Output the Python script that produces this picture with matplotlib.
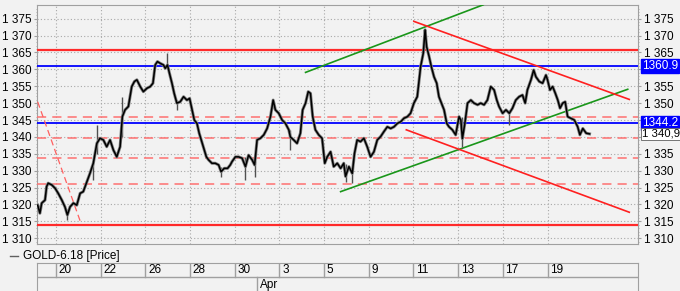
import matplotlib
matplotlib.use('Agg')
import matplotlib.pyplot as plt
from matplotlib.lines import Line2D
import numpy as np

######################################################
# price path (t = trading days from Mar 19)

t = [0.18, 0.28, 0.36, 0.51, 0.58, 0.65, 0.81, 0.96, 1.10, 1.26, 1.40, 1.51, 1.63, 1.78, 1.93,
     2.08, 2.22, 2.38, 2.52, 2.67, 2.83, 2.97, 3.12, 3.27, 3.42, 3.57, 3.72, 3.87, 3.97, 4.09,
     4.24, 4.39, 4.51, 4.62, 4.77, 4.91, 5.07, 5.22, 5.34, 5.44, 5.54, 5.66, 5.81, 5.89, 5.99,
     6.08, 6.19, 6.29, 6.41, 6.56, 6.71, 6.86, 6.98, 7.09, 7.19, 7.31, 7.41, 7.50, 7.61, 7.73,
     7.83, 7.98, 8.13, 8.28, 8.39, 8.53, 8.68, 8.80, 8.88, 9.03, 9.17, 9.33, 9.48, 9.62, 9.78,
     9.89, 10.00, 10.15, 10.30, 10.45, 10.60, 10.72, 10.82, 10.97, 11.12, 11.27, 11.42, 11.49,
     11.64, 11.79, 11.94, 12.04, 12.17, 12.29, 12.39, 12.49, 12.61, 12.76, 12.91, 13.03, 13.14,
     13.29, 13.43, 13.59, 13.74, 13.88, 13.96, 14.11, 14.26, 14.36, 14.48, 14.63, 14.78, 14.93,
     15.08, 15.23, 15.38, 15.53, 15.68, 15.83, 15.98, 16.13, 16.28, 16.43, 16.57, 16.73, 16.87,
     17.02, 17.17, 17.32, 17.44, 17.52, 17.59, 17.70, 17.80, 17.92, 18.04, 18.14, 18.25, 18.37,
     18.49, 18.59, 18.74, 18.89, 19.04, 19.12, 19.19, 19.30, 19.42, 19.57, 19.71, 19.87, 20.01,
     20.16, 20.31, 20.46, 20.61, 20.73, 20.83, 20.99, 21.14, 21.29, 21.43, 21.58, 21.73, 21.88,
     22.00, 22.10, 22.26, 22.38, 22.48, 22.63, 22.78, 22.93, 23.00, 23.11, 23.23, 23.35, 23.46,
     23.56, 23.68, 23.79, 23.90, 24.05, 24.20, 24.35, 24.45, 24.58, 24.73, 24.88]
price = [1319.8, 1317.4, 1320.4, 1321.3, 1325.3, 1326.3, 1325.8, 1324.8, 1323.3, 1321.3, 1319.3,
         1316.9, 1319.3, 1320.4, 1319.8, 1323.3, 1323.8, 1326.7, 1329.2, 1332.2, 1338.1, 1339.6,
         1339.1, 1337.1, 1339.1, 1336.1, 1334.1, 1337.1, 1346.0, 1348.0, 1349.0, 1354.9, 1356.4,
         1356.9, 1354.9, 1353.4, 1354.4, 1354.9, 1355.9, 1361.3, 1362.3, 1361.8, 1361.3, 1360.3,
         1361.3, 1358.8, 1355.9, 1352.9, 1350.0, 1350.4, 1351.9, 1350.9, 1351.4, 1348.0, 1345.0,
         1344.0, 1341.1, 1339.1, 1336.6, 1334.1, 1333.2, 1332.2, 1332.2, 1331.7, 1329.7, 1330.7,
         1330.7, 1331.7, 1332.7, 1334.1, 1334.1, 1333.7, 1331.2, 1334.6, 1333.2, 1331.7, 1339.1,
         1339.6, 1340.6, 1342.5, 1346.0, 1350.9, 1348.0, 1347.0, 1345.0, 1344.0, 1342.1, 1340.0,
         1339.1, 1338.1, 1341.1, 1348.0, 1350.0, 1353.4, 1352.9, 1346.0, 1342.1, 1340.6, 1339.6,
         1332.2, 1334.1, 1335.6, 1331.2, 1332.2, 1330.7, 1332.2, 1328.3, 1331.2, 1329.2, 1335.1,
         1339.1, 1338.6, 1339.6, 1337.1, 1334.1, 1335.6, 1339.1, 1340.1, 1341.6, 1343.0, 1342.5,
         1343.0, 1344.0, 1344.5, 1345.5, 1346.0, 1347.0, 1350.0, 1351.9, 1360.8, 1364.8, 1371.7,
         1366.7, 1363.8, 1360.8, 1357.8, 1355.9, 1351.9, 1350.0, 1348.0, 1344.0, 1343.0, 1342.1,
         1340.6, 1346.0, 1345.0, 1339.5, 1344.0, 1350.0, 1350.9, 1350.0, 1349.5, 1350.0, 1349.5,
         1350.9, 1354.9, 1353.9, 1350.9, 1349.0, 1347.0, 1348.0, 1347.0, 1348.5, 1350.9, 1351.9,
         1352.4, 1350.0, 1353.9, 1356.9, 1359.8, 1357.8, 1356.4, 1355.9, 1358.3, 1356.9, 1353.9,
         1354.9, 1352.9, 1350.9, 1348.5, 1350.0, 1350.4, 1346.0, 1345.5, 1345.0, 1343.0, 1340.6,
         1342.5, 1341.1, 1340.9]

# spikes (high/low shadows)
wick_t = [1.51, 2.67, 2.83, 3.97, 5.99, 6.41, 8.39, 9.48, 9.89, 11.49, 13.96, 14.26, 19.19, 21.29]
wick_lo = [1315.4, 1327.3, 1335.0, 1340.0, 1360.0, 1348.0, 1328.2, 1327.3, 1328.2, 1336.1,
           1326.8, 1326.3, 1337.1, 1343.5]
wick_hi = [1318.0, 1333.0, 1343.5, 1351.9, 1364.8, 1351.0, 1331.0, 1334.0, 1333.0, 1342.0,
           1332.0, 1330.0, 1346.0, 1348.0]

# horizontal levels
red_solid = [1365.6, 1314.0]
blue_levels = [1360.9, 1344.2]
red_dashed = [1345.8, 1339.8, 1333.7, 1326.2]

# trend lines: (t0, p0, t1, p1)
green_lines = [(12.17, 1359.1, 20.12, 1379.1), (13.74, 1323.8, 26.59, 1354.1)]
red_lines = [(17.02, 1374.2, 26.66, 1351.1), (16.68, 1342.1, 26.66, 1317.7)]
red_dash_line = (0.18, 1350.4, 2.12, 1314.4)

day_pos = [1, 3, 5, 7, 9, 11, 13, 15, 17, 19, 21, 23]
day_labels = ['20', '22', '26', '28', '30', '3', '5', '9', '11', '13', '17', '19']
month_pos = 10
month_label = 'Apr'
last_price = 1340.9

######################################################

XMIN, XMAX = 0.15, 27.05
YMIN, YMAX = 1308.3, 1379.05
W, H = 680, 291
bg = '#f2f2f2'
spine = '#a0a0a0'

plt.rcParams['font.family'] = ['Liberation Sans', 'DejaVu Sans']
fig = plt.figure(figsize=(W / 100, H / 100), dpi=100, facecolor=bg)
ax = fig.add_axes([37 / W, (H - 244) / H, 601 / W, 239 / H])
ax.set_facecolor(bg)
ax.set_xlim(XMIN, XMAX)
ax.set_ylim(YMIN, YMAX)

yt = np.arange(1310, 1380, 5)
ax.set_yticks(yt)
ax.set_yticklabels(['1 %d' % (v - 1000) for v in yt], fontsize=8.5)
ax.set_xticks(day_pos)
ax.set_xticklabels([])
ax.tick_params(axis='x', length=0)
ax.tick_params(axis='y', which='both', left=True, right=True, labelleft=True,
               labelright=True, length=2, color=spine, pad=2, direction='out')
ax.set_yticks(np.arange(1309, 1379, 1), minor=True)
ax.tick_params(axis='y', which='minor', length=1)
ax.grid(True, color='#a8a8a8', linestyle=(0, (1, 2)), lw=0.8)
for s in ax.spines.values():
    s.set_color(spine)
# right labels hidden behind the price boxes
for tk in ax.yaxis.get_major_ticks():
    if tk.get_loc() in (1360, 1345, 1340):
        tk.label2.set_visible(False)

for lv in red_solid:
    ax.axhline(lv, color='#ff2a2a', lw=1.6, zorder=3)
for lv in red_dashed:
    ax.axhline(lv, color='#ff7070', lw=1.1, dashes=(6, 4), zorder=3)
for lv in blue_levels:
    ax.axhline(lv, color='#0000ff', lw=1.3, zorder=3)
for (a, b, c, d) in green_lines:
    ax.plot([a, c], [b, d], color='#1a961a', lw=1.2, zorder=4)
for (a, b, c, d) in red_lines:
    ax.plot([a, c], [b, d], color='#ff2020', lw=1.2, zorder=4)
a, b, c, d = red_dash_line
ax.plot([a, c], [b, d], color='#ff6060', lw=0.9, dashes=(5, 3), zorder=4)

ax.vlines(wick_t, wick_lo, wick_hi, color='#505050', lw=1.0, zorder=5)
ax.plot(t, price, color='#808080', lw=2.2, zorder=5)
ax.plot(t, price, color='black', lw=1.1, zorder=6)

# price boxes on the right axis
for lv in blue_levels:
    ax.text(1.007, (lv - YMIN) / (YMAX - YMIN), '%.1f' % lv, transform=ax.transAxes,
            fontsize=8.5, color='white', va='center', ha='left',
            bbox=dict(boxstyle='square,pad=0.08', fc='#0000ff', ec='#0000ff'), zorder=10)
ax.text(1.007, (last_price - YMIN) / (YMAX - YMIN), '1 340,9', transform=ax.transAxes,
        fontsize=8.2, color='black', va='center', ha='left',
        bbox=dict(boxstyle='square,pad=0.08', fc='white', ec='#606060', lw=0.6), zorder=10)

# legend line
fig.add_artist(Line2D([10 / W, 18 / W], [1 - 256 / H] * 2, color='#606060', lw=1))
fig.text(23 / W, 1 - 256 / H, 'GOLD-6.18 [Price]', fontsize=8.5, va='center')

# date strip
ax2 = fig.add_axes([37 / W, 0, 601 / W, 28 / H])
ax2.set_facecolor(bg)
ax2.set_xlim(XMIN, XMAX)
ax2.set_ylim(0, 2)
ax2.set_xticks([])
ax2.set_yticks([])
for s in ax2.spines.values():
    s.set_color(spine)
ax2.spines['bottom'].set_visible(False)
ax2.axhline(1, color=spine, lw=1)
for p, lab in zip(day_pos, day_labels):
    ax2.plot([p, p], [1, 2], color=spine, lw=1)
    ax2.text(p + 0.12, 1.5, lab, fontsize=8.5, va='center', ha='left')
ax2.plot([month_pos, month_pos], [0, 1], color=spine, lw=1)
ax2.text(month_pos + 0.12, 0.45, month_label, fontsize=8.5, va='center', ha='left')

plt.savefig('out.png', dpi=100, facecolor=bg)
